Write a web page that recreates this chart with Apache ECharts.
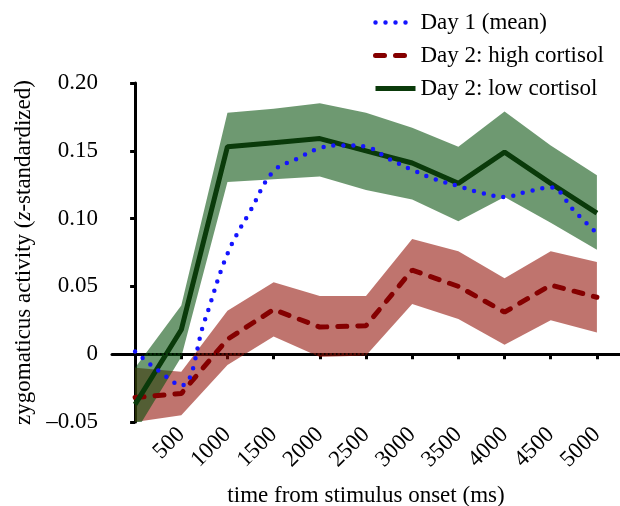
<!DOCTYPE html>
<html>
<head>
<meta charset="utf-8">
<script src="https://cdn.jsdelivr.net/npm/echarts@6/dist/echarts.min.js"></script>
<style>
  html, body { margin: 0; padding: 0; background: #fff; }
</style>
</head>
<body>
<div id="ZygoChart" style="width: 620px; height: 506px;"></div>
<script>
// tick labels of the time axis (ms), one slot every 250 ms
const timeLabels = ['-250', '0', '250', '500', '750', '1000', '1250', '1500', '1750', '2000', '2250',
  '2500', '2750', '3000', '3250', '3500', '3750', '4000', '4250', '4500', '4750', '5000', '5250']

const times = [0, 500, 1000, 1500, 2000, 2500, 3000, 3500, 4000, 4500, 5000]

const highMean = [-0.032, -0.029, 0.011, 0.033, 0.020, 0.021, 0.062, 0.050, 0.031, 0.051, 0.042]
const highUpper = [-0.010, -0.013, 0.032, 0.053, 0.043, 0.043, 0.085, 0.076, 0.056, 0.076, 0.068]
const highLower = [-0.050, -0.045, -0.008, 0.013, -0.002, -0.001, 0.037, 0.026, 0.007, 0.025, 0.016]

const lowMean = [-0.037, 0.018, 0.153, 0.156, 0.159, 0.150, 0.141, 0.126, 0.149, 0.126, 0.104]
const lowUpper = [-0.010, 0.036, 0.178, 0.181, 0.185, 0.178, 0.167, 0.153, 0.179, 0.154, 0.132]
const lowLower = [-0.058, -0.002, 0.127, 0.129, 0.131, 0.121, 0.114, 0.098, 0.116, 0.097, 0.077]

const day1Times = [0, 250, 500, 750, 1000, 1250, 1500, 1750, 2000, 2250, 2500,
  2750, 3000, 3250, 3500, 3750, 4000, 4250, 4500, 4750, 5000]
const day1Mean = [0.002, -0.012, -0.023, 0.024, 0.074, 0.106, 0.135, 0.144, 0.152, 0.154, 0.153,
  0.144, 0.136, 0.129, 0.124, 0.119, 0.116, 0.120, 0.123, 0.106, 0.089]

const seriesNames = ['Day 1 (mean)', 'Day 2: high cortisol', 'Day 2: low cortisol']

const font = 'Liberation Serif'
const fontSize = 23

function pairs (xs, ys) {
  return xs.map((x, i) => [x, ys[i]])
}

// shaded error band: one polygon built from every row of the series
function bandSeries (lower, upper, color) {
  return {
    type: 'custom',
    xAxisIndex: 1,
    silent: true,
    clip: true,
    data: times.map((t, i) => [t, lower[i], upper[i]]),
    encode: { x: 0, y: [1, 2] },
    renderItem: (params, api) => {
      if (params.dataIndexInside !== 0) return null
      const top = []
      const bottom = []
      for (let i = 0; i < params.dataInsideLength; i++) {
        top.push(api.coord([api.value(0, i), api.value(2, i)]))
        bottom.push(api.coord([api.value(0, i), api.value(1, i)]))
      }
      return {
        type: 'polygon',
        shape: { points: top.concat(bottom.reverse()) },
        style: { fill: color }
      }
    }
  }
}

// only every 500 ms from 500 on gets a tick and a label
const showTick = (index, value) => Number(value) > 0 && Number(value) % 500 === 0

const chart = echarts.init(document.getElementById('ZygoChart'))

const option = {
  animation: false,
  textStyle: { fontFamily: font },
  legend: {
    data: seriesNames,
    orient: 'vertical',
    left: 373,
    top: 11,
    padding: 0,
    itemWidth: 40,
    itemHeight: 14,
    itemGap: 10,
    itemStyle: { opacity: 0 },
    lineStyle: { width: 'inherit' },
    textStyle: { fontFamily: font, fontSize: fontSize, color: '#000' }
  },
  grid: {
    left: 112,
    right: 0,
    top: 83,
    bottom: 84,
    outerBoundsMode: 'none'
  },
  xAxis: [
    {
      type: 'category',
      data: timeLabels,
      boundaryGap: false,
      name: 'time from stimulus onset (ms)',
      nameLocation: 'middle',
      nameGap: 62,
      nameTextStyle: { fontFamily: font, fontSize: fontSize, color: '#000' },
      axisLine: { lineStyle: { color: '#000', width: 3 } },
      axisTick: { interval: showTick, length: 5, lineStyle: { color: '#000', width: 3 } },
      axisLabel: {
        interval: showTick,
        rotate: 45,
        margin: 9,
        fontFamily: font,
        fontSize: fontSize,
        color: '#000'
      },
      splitLine: { show: false }
    },
    {
      type: 'value',
      min: -250,
      max: 5250,
      show: false
    }
  ],
  yAxis: {
    type: 'value',
    min: -0.05,
    max: 0.20,
    interval: 0.05,
    name: 'zygomaticus activity ({i|z}-standardized)',
    nameLocation: 'middle',
    nameGap: 74,
    nameTextStyle: {
      fontFamily: font,
      fontSize: fontSize,
      color: '#000',
      rich: { i: { fontFamily: font, fontSize: fontSize, fontStyle: 'italic', color: '#000' } }
    },
    axisLine: { show: true, lineStyle: { color: '#000', width: 3 } },
    axisTick: { show: true, length: 5, lineStyle: { color: '#000', width: 3 } },
    axisLabel: {
      margin: 14,
      fontFamily: font,
      fontSize: fontSize,
      color: '#000',
      formatter: v => (Math.abs(v) < 1e-9 ? '0' : (v < 0 ? '\u2013' : '') + Math.abs(v).toFixed(2))
    },
    splitLine: { show: false }
  },
  series: [
    bandSeries(highLower, highUpper, 'rgba(145, 15, 5, 0.58)'),
    bandSeries(lowLower, lowUpper, 'rgba(5, 80, 10, 0.58)'),
    {
      name: seriesNames[1],
      type: 'line',
      xAxisIndex: 1,
      symbol: 'none',
      lineStyle: { color: '#850000', width: 5, type: [9, 11], cap: 'round' },
      itemStyle: { color: '#850000' },
      data: pairs(times, highMean)
    },
    {
      name: seriesNames[2],
      type: 'line',
      xAxisIndex: 1,
      symbol: 'none',
      lineStyle: { color: '#0a3a0a', width: 5 },
      itemStyle: { color: '#0a3a0a' },
      data: pairs(times, lowMean),
      markLine: {
        silent: true,
        symbol: 'none',
        label: { show: false },
        lineStyle: { color: '#000', width: 1.5, type: [1.5, 2.5] },
        data: [{ yAxis: 0 }]
      }
    },
    {
      name: seriesNames[0],
      type: 'line',
      xAxisIndex: 1,
      symbol: 'none',
      smooth: 0.4,
      lineStyle: { color: '#1414ff', width: 4.5, type: [0, 10], cap: 'round' },
      itemStyle: { color: '#1414ff' },
      data: pairs(day1Times, day1Mean)
    }
  ]
}

chart.setOption(option)
</script>
</body>
</html>
